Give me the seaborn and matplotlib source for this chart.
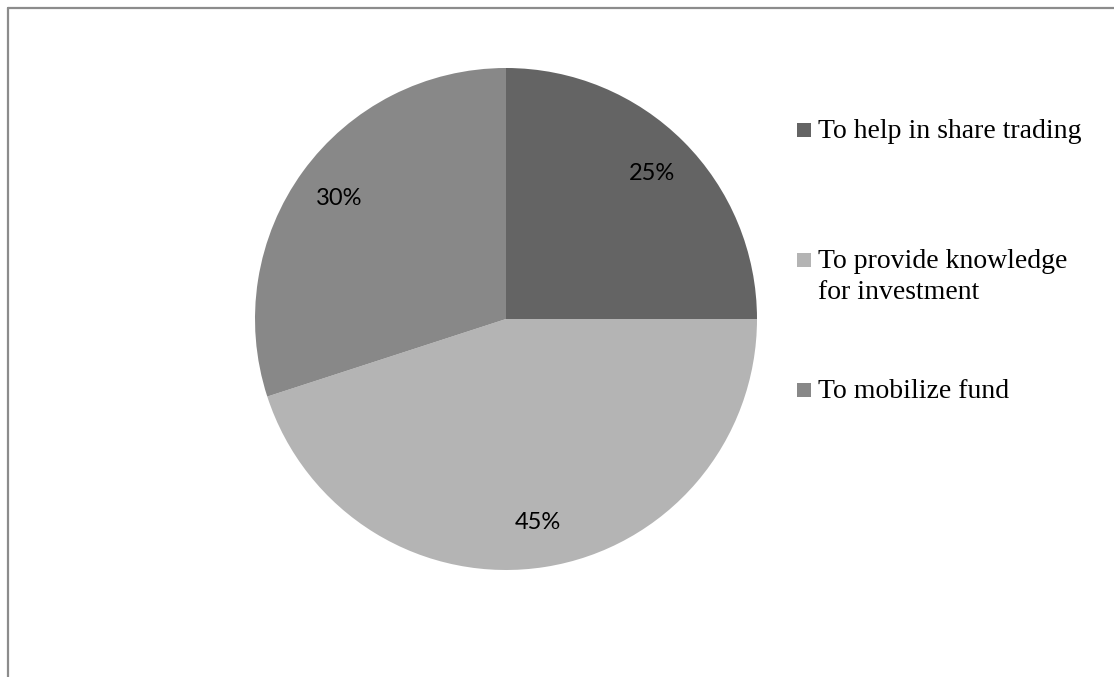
import matplotlib
matplotlib.use("Agg")
import matplotlib.pyplot as plt
from matplotlib.lines import Line2D
from matplotlib.patches import Rectangle
import seaborn as sns

# Purposes of the share market and the share of respondents choosing each
categories = ["To help in share trading",
              "To provide knowledge\nfor investment",
              "To mobilize fund"]
shares = [25, 45, 30]
colors = ["#646464", "#b4b4b4", "#888888"]

sns.set_theme(style="white")

W, H = 1114, 677
fig = plt.figure(figsize=(W / 100, H / 100), dpi=100)
fig.patch.set_facecolor("white")

# Pie occupies a square box centred at (506, 319) px with radius 251 px
cx, cy, r = 506, 319, 251
ax = fig.add_axes([(cx - r) / W, (H - cy - r) / H, 2 * r / W, 2 * r / H])
wedges, _, autotexts = ax.pie(
    shares, colors=colors, startangle=90, counterclock=False,
    autopct="%1.0f%%", pctdistance=0.82, radius=1.0,
    wedgeprops=dict(linewidth=0),
    textprops=dict(fontsize=17, family=["Lato", "DejaVu Sans"], color="#000000"),
)
ax.set_xlim(-1, 1)
ax.set_ylim(-1, 1)
ax.axis("off")

# Legend drawn as coloured squares with serif labels
legend_rows = [130, 260, 390]   # vertical centre of each marker, px from top
sq = 14
for label, color, yc in zip(categories, colors, legend_rows):
    fig.patches.append(Rectangle((797 / W, (H - yc - sq / 2) / H), sq / W, sq / H,
                                 transform=fig.transFigure, facecolor=color,
                                 edgecolor="none"))
    lines = label.split("\n")
    for i, line in enumerate(lines):
        base = yc + 8 + i * 31
        fig.text(818 / W, (H - base) / H, line, ha="left", va="baseline",
                 fontsize=20, family=["Liberation Serif", "DejaVu Serif"],
                 color="#000000")

# Chart frame (top and left edges)
frame_color = "#8c8c8c"
fig.add_artist(Line2D([7.5 / W, 1.0], [(H - 8) / H, (H - 8) / H],
                      transform=fig.transFigure, color=frame_color, linewidth=1.6))
fig.add_artist(Line2D([7.5 / W, 7.5 / W], [0.0, (H - 8) / H],
                      transform=fig.transFigure, color=frame_color, linewidth=1.6))

fig.savefig("out.png", dpi=100, facecolor="white")
